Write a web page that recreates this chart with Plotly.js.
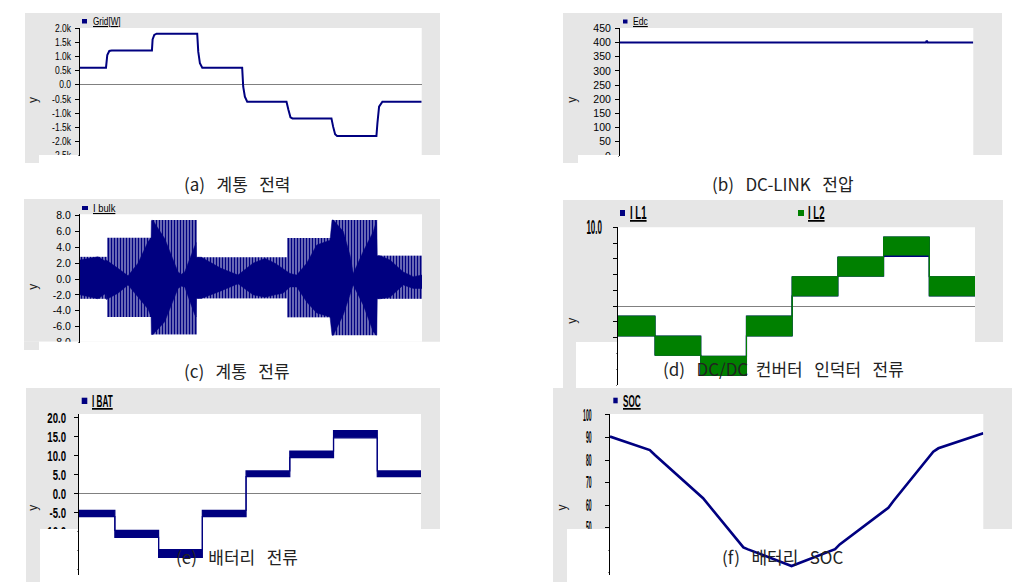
<!DOCTYPE html>
<html><head><meta charset="utf-8">
<script src="https://cdn.plot.ly/plotly-3.0.1.min.js"></script>
<style>html,body{margin:0;padding:0;background:#fff}#chart{width:1026px;height:582px}</style>
</head><body><div id="chart"></div>
<script>
// ================= DATA =================
// (a) Grid power [W]
const gridT = [0.4, 0.978, 1.007, 1.052, 1.104, 2.0, 2.015, 2.052, 2.104, 3.007, 3.030, 3.067, 3.119, 4.007, 4.030, 4.067, 4.119, 4.993, 5.037, 5.081, 5.126, 5.993, 6.030, 6.074, 6.119, 6.993, 7.015, 7.052, 7.126, 8.0];
const gridW = [610, 610, 1060, 1200, 1220, 1220, 1610, 1765, 1810, 1810, 1175, 765, 610, 610, -60, -410, -590, -590, -880, -1140, -1180, -1180, -1470, -1740, -1800, -1800, -1350, -765, -590, -590];
const gridTickVals = [2000, 1500, 1000, 500, 0, -500, -1000, -1500, -2000, -2500];
const gridTickText = ['2.0k', '1.5k', '1.0k', '0.5k', '0.0', '-0.5k', '-1.0k', '-1.5k', '-2.0k', '-2.5k'];

// (b) DC-link voltage
const edcT = [0.4, 6.98, 7.0, 7.02, 8.0];
const edcV = [400, 400, 406, 400, 400];
const edcTickVals = [450, 400, 350, 300, 250, 200, 150, 100, 50, 0];
const edcTickText = ['450', '400', '350', '300', '250', '200', '150', '100', '50', '0'];

// (c) Grid current: outer envelope per step, inner (solid) envelope read along time
const ibulkSegT = [0.4, 0.98, 1.98, 2.98, 4.99, 5.99, 7.0, 8.0];
const ibulkOuterTop = [2.8, 5.2, 7.45, 2.75, 5.18, 7.45, 2.95];
const ibulkOuterBot = [-2.5, -4.8, -7.0, -2.45, -4.84, -7.1, -2.5];
const ibulkInnerT = [0.4, 0.8, 0.978, 0.984, 1.244, 1.467, 1.689, 1.911, 1.98, 1.986, 2.022, 2.282, 2.578, 2.651, 2.727, 2.949, 2.98, 2.986, 3.096, 3.533, 3.911, 4.244, 4.511, 4.733, 4.911, 4.99, 5.067, 5.216, 5.438, 5.660, 5.956, 6.0, 6.029, 6.251, 6.4, 6.473, 6.696, 6.918, 6.995, 7.006, 7.067, 7.289, 7.584, 7.807, 8.0];
const ibulkInnerTop = [2.4, 2.8, 2.2, 2.4, 1.35, 0.4, 2.0, 4.7, 5.2, 7.4, 7.4, 5.1, 0.9, 0.6, 0.9, 4.3, 4.6, 2.75, 2.75, 1.35, 0.5, 2.0, 2.6, 2.0, 1.35, 1.0, 0.7, 0.5, 2.0, 4.3, 4.9, 7.45, 7.45, 6.0, 3.0, 0.7, 3.5, 6.0, 7.45, 2.95, 2.95, 2.4, 0.9, 0.3, 0.5];
const ibulkInnerBot = [-2.0, -2.5, -1.8, -2.6, -1.8, -0.75, -2.2, -3.8, -4.8, -7.0, -7.0, -5.4, -1.2, -0.9, -1.0, -4.5, -4.8, -2.45, -2.45, -1.5, -0.6, -2.0, -2.3, -2.0, -1.8, -1.4, -1.0, -1.0, -2.9, -4.3, -4.8, -7.1, -7.1, -4.5, -2.0, -0.75, -3.3, -6.7, -7.1, -2.5, -2.5, -2.3, -0.75, -1.2, -1.2];
const ibulkTickVals = [8, 6, 4, 2, 0, -2, -4, -6, -8];
const ibulkTickText = ['8.0', '6.0', '4.0', '2.0', '0.0', '-2.0', '-4.0', '-6.0', '-8.0'];

// (d) DC/DC inductor currents (ripple band: upper / lower per step)
const ilSegT = [0.19, 1, 2, 3, 4, 5, 6, 7, 8.0];
const il1Hi = [-1.27, -3.81, -6.36, -1.27, 3.73, 6.23, 8.77, 3.73];
const il1Lo = [-3.77, -6.23, -8.77, -3.77, 1.31, 3.81, 6.30, 1.31];
const il2Hi = [-1.27, -3.81, -6.36, -1.27, 3.73, 6.23, 8.77, 3.73];
const il2Lo = [-3.77, -6.23, -8.77, -3.77, 1.31, 3.81, 6.48, 1.31];
const ilTickVals = [10, 8, 6, 4, 2, 0, -2, -4, -6, -8, -10];
const ilTickText = ['10.0', '', '', '', '', '', '', '', '', '', ''];

// (e) Battery current
const ibatSegT = [0.18, 1, 2, 3, 4, 5, 6, 7, 8.0];
const ibatHi = [-4.47, -9.74, -14.8, -4.47, 5.88, 11.1, 16.5, 5.88];
const ibatLo = [-6.14, -11.58, -16.9, -6.14, 4.39, 9.39, 14.6, 4.39];
const ibatTickVals = [20, 15, 10, 5, 0, -5, -10, -15, -20];
const ibatTickText = ['20.0', '15.0', '10.0', '5.0', '0.0', '-5.0', '-10.0', '-15.0', '-20.0'];

// (f) Battery SOC
const socT = [0.14, 1.0, 1.11, 1.47, 1.97, 2.15, 3.02, 3.12, 4.06, 5.0, 5.10, 6.15, 6.26, 7.12, 7.23, 8.2];
const socV = [90.4, 84.4, 82.2, 75.6, 66.7, 63.0, 41.2, 40.3, 32.9, 40.4, 42.5, 58.8, 61.8, 83.7, 85.2, 91.9];
const socTickVals = [100, 90, 80, 70, 60, 50, 40, 30];
const socTickText = ['100', '90', '80', '70', '60', '50', '40', '30'];

const legendNames = {a: 'Grid[W]', b: 'Edc', c: 'I bulk', d1: 'I L1', d2: 'I L2', e: 'I BAT', f: 'SOC'};
const SP = '\u00a0\u00a0\u00a0';
const captions = {
  a: '(a)' + SP + '계통' + SP + '전력',
  b: '(b)' + SP + 'DC-LINK' + SP + '전압',
  c: '(c)' + SP + '계통' + SP + '전류',
  d: '(d)' + SP + 'DC/DC\u00a0\u00a0컨버터' + SP + '인덕터' + SP + '전류',
  e: '(e)' + SP + '배터리' + SP + '전류',
  f: '(f)' + SP + '배터리' + SP + 'SOC'
};

// ================= STYLE / LAYOUT =================
const W = 1026, H = 582;
const fx = p => p / W, fy = p => 1 - p / H;
const NAVY = '#000080', GREEN = '#008000', BG = '#e6e6e6', ZL = '#808080';
const TF = 'Liberation Sans, Arial, sans-serif';
const CJK = 'Noto Sans CJK KR, Noto Sans, sans-serif';

// panel geometry in pixels; sq = horizontal squeeze of tick labels
const panels = [
  {id:'', sp:'xy', plot:[80,421.7,28.3,156], xr:[0.4,8.0], yr:[-2506,2000], tv:gridTickVals, tt:gridTickText, zl:true, fs:10, fw:'normal', sq:0.85, so:2,
   gray:[25,440,13,155], strip:[25,39,155,163], white:[80,421.7,28,155], cover:[39,78.5,155,172], ylab:[33,100], cap:[236.5,183]},
  {id:'2', sp:'x2y2', plot:[620,973.3,28.3,156], xr:[0.4,8.0], yr:[0,450], tv:edcTickVals, tt:edcTickText, zl:false, fs:10.5, fw:'normal', sq:1, so:2,
   gray:[563,1002,13,155], strip:[563,578,155,163], white:[620,973.3,28,155], cover:[578,618.5,155,172], ylab:[571.7,100], cap:[782.5,183]},
  {id:'3', sp:'x3y3', plot:[80,422,214.3,343], xr:[0.4,8.0], yr:[-8.08,8.17], tv:ibulkTickVals, tt:ibulkTickText, zl:true, fs:10.5, fw:'normal', sq:1, so:2,
   gray:[24,440,199,341.7], strip:[24,39,341.7,350], white:[80,422,214.3,341.7], cover:[39,78.5,341.7,358], ylab:[33,286.7], cap:[236.5,370]},
  {id:'4', sp:'x4y4', plot:[618,975,227.3,385], xr:[0.19,8.0], yr:[-10,10], tv:ilTickVals, tt:ilTickText, zl:true, fs:20, fw:'bold', sq:0.40, so:7,
   gray:[563,1003,200,342], strip:[563,576,342,388], white:[618,975,227.3,342], cover:[576,616.5,342,388], ylab:[571.7,321], cap:[783,368.3]},
  {id:'5', sp:'x5y5', plot:[79,421,414,575], xr:[0.18,8.0], yr:[-21.5,20.87], tv:ibatTickVals, tt:ibatTickText, zl:true, fs:15, fw:'bold', sq:0.64, so:5,
   gray:[26,440,388,529], strip:[26,40,529,582], white:[79,421,414,529], cover:[40,77.5,529,582], ylab:[33,507.7], cap:[236.7,556.7]},
  {id:'6', sp:'x6y6', plot:[610,983.3,414,575], xr:[0.14,8.2], yr:[28.9,100.44], tv:socTickVals, tt:socTickText, zl:false, fs:17, fw:'bold', sq:0.30, so:10,
   gray:[553,1012,388,529], strip:[553,567,529,582], white:[610,983.3,414,529], cover:[567,608.5,529,582], ylab:[561.7,507.7], cap:[782.5,556.7]}
];

const layout = {
  width: W, height: H, margin: {l:0, r:0, t:0, b:0},
  paper_bgcolor: '#ffffff', plot_bgcolor: 'rgba(0,0,0,0)', showlegend: false,
  shapes: [], annotations: []
};
const rect = (r, color, layer) => ({type:'rect', xref:'paper', yref:'paper', x0:fx(r[0]), x1:fx(r[1]), y0:fy(r[3]), y1:fy(r[2]), fillcolor:color, line:{width:0}, layer:layer || 'below'});

const capKeys = ['a','b','c','d','e','f'];
panels.forEach((p, i) => {
  const xa = 'xaxis' + p.id, ya = 'yaxis' + p.id;
  layout[xa] = {domain:[fx(p.plot[0]), fx(p.plot[1])], range:p.xr, visible:false, fixedrange:true, anchor:'y' + p.id};
  layout[ya] = {domain:[fy(p.plot[3]), fy(p.plot[2])], range:p.yr, anchor:'x' + p.id, fixedrange:true,
    showline:true, linecolor:'#000', linewidth:1, showgrid:false,
    zeroline:p.zl, zerolinecolor:ZL, zerolinewidth:1,
    ticks:'outside', ticklen:4, tickwidth:1, tickcolor:'#000',
    tickmode:'array', tickvals:p.tv, ticktext:p.tt, ticklabelstandoff:p.so,
    tickfont:{family:TF, size:p.fs, color:'#000', weight:p.fw}};
  layout.shapes.push(rect(p.gray, BG), rect(p.strip, BG), rect(p.white, '#ffffff'));
  layout.shapes.push(rect(p.cover, '#ffffff', 'above'));
  layout.annotations.push({xref:'paper', yref:'paper', x:fx(p.ylab[0]), y:fy(p.ylab[1]), text:'y', showarrow:false,
    textangle:-90, xanchor:'center', yanchor:'middle', font:{family:TF, size:12, color:'#222'}});
  layout.annotations.push({xref:'paper', yref:'paper', x:fx(p.cap[0]), y:fy(p.cap[1]), text:captions[capKeys[i]], showarrow:false,
    xanchor:'center', yanchor:'middle', font:{family:CJK, size:17, color:'#222'}});
});

// legend markers + labels (k = horizontal squeeze)
const legends = [
  {sq:[82,87,19,23.5], col:NAVY, txt:legendNames.a, tx:90.5, ty:21, fs:11, fw:'normal', k:0.74},
  {sq:[623,627.5,19.5,23.5], col:NAVY, txt:legendNames.b, tx:631, ty:21, fs:11, fw:'normal', k:0.78},
  {sq:[82,88,206,210], col:NAVY, txt:legendNames.c, tx:90.5, ty:208, fs:11, fw:'normal', k:0.85},
  {sq:[620,625,210,216], col:NAVY, txt:legendNames.d1, tx:627.5, ty:212.5, fs:17.5, fw:'bold', k:0.55},
  {sq:[798,804,210,216], col:GREEN, txt:legendNames.d2, tx:805.5, ty:212.5, fs:17.5, fw:'bold', k:0.55},
  {sq:[81.7,87.3,397.7,404], col:NAVY, txt:legendNames.e, tx:89.5, ty:401, fs:17, fw:'bold', k:0.48},
  {sq:[613.3,617.7,397.7,403.3], col:NAVY, txt:legendNames.f, tx:620.5, ty:401, fs:17, fw:'bold', k:0.48}
];
const legendStart = layout.annotations.length;
legends.forEach(l => {
  layout.shapes.push(rect(l.sq, l.col));
  layout.annotations.push({xref:'paper', yref:'paper', x:fx(l.tx), y:fy(l.ty), text:l.txt, showarrow:false,
    xanchor:'left', yanchor:'middle', font:{family:TF, size:l.fs, color:'#000', weight:l.fw, lineposition:'under'}});
});

// ================= TRACES =================
const stepY = v => v.concat([v[v.length - 1]]);
const traces = [];

// (a)
traces.push({x:gridT, y:gridW, xaxis:'x', yaxis:'y', mode:'lines', line:{color:NAVY, width:2}});
// (b)
traces.push({x:edcT, y:edcV, xaxis:'x2', yaxis:'y2', mode:'lines', line:{color:NAVY, width:2.2}});

// (c) inner solid band
traces.push({x:ibulkInnerT.concat(ibulkInnerT.slice().reverse()),
  y:ibulkInnerTop.concat(ibulkInnerBot.slice().reverse()),
  xaxis:'x3', yaxis:'y3', mode:'lines', fill:'toself', fillcolor:NAVY, line:{color:NAVY, width:0.5}});
// (c) dense waveform strokes reaching the outer envelope of each step
(function(){
  const bx = [], by = [];
  const dt = 3 / 45;
  for (let t = ibulkSegT[0] + dt / 2; t < ibulkSegT[ibulkSegT.length - 1]; t += dt) {
    let k = 0;
    while (k < ibulkSegT.length - 2 && t >= ibulkSegT[k + 1]) k++;
    bx.push(t, t, null);
    by.push(ibulkOuterTop[k], ibulkOuterBot[k], null);
  }
  traces.push({x:bx, y:by, xaxis:'x3', yaxis:'y3', mode:'lines', line:{color:NAVY, width:2.2}});
})();

// (d) I L1 then I L2 bands
traces.push({x:ilSegT, y:stepY(il1Lo), xaxis:'x4', yaxis:'y4', mode:'lines', line:{shape:'hv', color:NAVY, width:1.2}});
traces.push({x:ilSegT, y:stepY(il1Hi), xaxis:'x4', yaxis:'y4', mode:'lines', fill:'tonexty', fillcolor:NAVY, line:{shape:'hv', color:NAVY, width:1.2}});
traces.push({x:ilSegT, y:stepY(il2Lo), xaxis:'x4', yaxis:'y4', mode:'lines', line:{shape:'hv', color:GREEN, width:1}});
traces.push({x:ilSegT, y:stepY(il2Hi), xaxis:'x4', yaxis:'y4', mode:'lines', fill:'tonexty', fillcolor:GREEN, line:{shape:'hv', color:GREEN, width:1}});

// (e) I BAT band
traces.push({x:ibatSegT, y:stepY(ibatLo), xaxis:'x5', yaxis:'y5', mode:'lines', line:{shape:'hv', color:NAVY, width:1.2}});
traces.push({x:ibatSegT, y:stepY(ibatHi), xaxis:'x5', yaxis:'y5', mode:'lines', fill:'tonexty', fillcolor:NAVY, line:{shape:'hv', color:NAVY, width:1.2}});

// (f) SOC
traces.push({x:socT, y:socV, xaxis:'x6', yaxis:'y6', mode:'lines', line:{color:NAVY, width:2.6}});

// condensed (narrow) lettering like the original screenshots
function squeeze(el, k) {
  if (k >= 0.999) return;
  const w = el.getComputedTextLength();
  if (!w) return;
  el.setAttribute('lengthAdjust', 'spacingAndGlyphs');
  el.setAttribute('textLength', (w * k).toFixed(2));
}
function squeezeLeft(el, k) {
  const w = el.getComputedTextLength();
  if (!w) return;
  const bb = el.getBBox();
  el.setAttribute('text-anchor', 'start');
  el.setAttribute('x', bb.x.toFixed(2));
  el.setAttribute('lengthAdjust', 'spacingAndGlyphs');
  el.setAttribute('textLength', (w * k).toFixed(2));
}

Plotly.newPlot('chart', traces, layout, {staticPlot:true, displayModeBar:false}).then(gd => {
  panels.forEach(p => {
    gd.querySelectorAll('.subplot.' + p.sp + ' .yaxislayer-above text').forEach(el => squeeze(el, p.sq));
  });
  legends.forEach((l, j) => {
    const el = gd.querySelector('.annotation[data-index="' + (legendStart + j) + '"] text.annotation-text');
    if (el) squeezeLeft(el, l.k);
  });
});
</script>
</body></html>
